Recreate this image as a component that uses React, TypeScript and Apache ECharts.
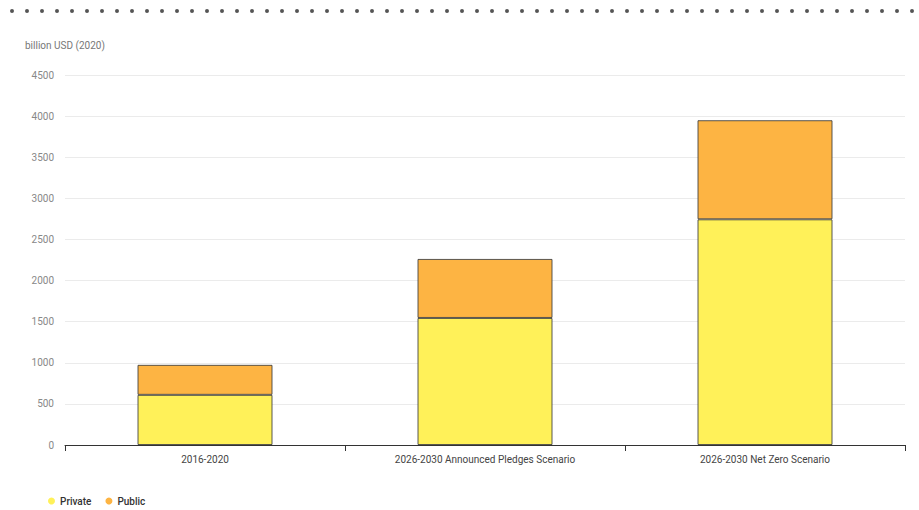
import React, { useEffect, useRef } from "react";
import * as echarts from "echarts";

const categories = ["2016-2020", "2026-2030 Announced Pledges Scenario", "2026-2030 Net Zero Scenario"];
const privateValues = [610, 1545, 2745];
const publicValues = [365, 718, 1205];
const seriesNames = ["Private", "Public"];
const unitLabel = "billion USD (2020)";

export default function App() {
  const ref = useRef<HTMLDivElement>(null);
  useEffect(() => {
    if (!ref.current) return;
    const chart = echarts.init(ref.current, null, { renderer: "svg" });
    const border = { borderColor: "rgba(60,60,60,0.85)", borderWidth: 1 };
    chart.setOption({
      animation: false,
      textStyle: { fontFamily: "Roboto, 'Noto Sans', sans-serif" },
      graphic: [
        {
          type: "line",
          shape: { x1: 12, y1: 11, x2: 919, y2: 11 },
          style: { stroke: "#555", lineWidth: 4, lineDash: [0, 15], lineCap: "round" },
        },
        {
          type: "text",
          left: 25,
          top: 40,
          style: { text: unitLabel, fill: "#777", fontSize: 10, fontFamily: "Roboto, sans-serif" },
        },
      ],
      grid: { left: 65, right: 14, top: 75, bottom: 65, containLabel: false },
      legend: {
        data: seriesNames,
        left: 43,
        top: 491,
        icon: "circle",
        itemWidth: 7,
        itemHeight: 7,
        itemGap: 14,
        itemStyle: { borderWidth: 0 },
        textStyle: { fontSize: 10, color: "#333", fontWeight: 500 },
      },
      xAxis: {
        type: "category",
        data: categories,
        axisLine: { lineStyle: { color: "#333", width: 1 } },
        axisTick: { show: true, length: 6, lineStyle: { color: "#333" } },
        axisLabel: { color: "#444", fontSize: 10, margin: 9 },
      },
      yAxis: {
        type: "value",
        min: 0,
        max: 4500,
        interval: 500,
        axisLine: { show: false },
        axisTick: { show: false },
        axisLabel: { color: "#888", fontSize: 10, margin: 11, formatter: (v: number) => String(v) },
        splitLine: { lineStyle: { color: "#ebebeb" } },
      },
      series: [
        {
          name: seriesNames[0],
          type: "bar",
          stack: "total",
          data: privateValues,
          barWidth: 135,
          itemStyle: { color: "#fff159", ...border },
        },
        {
          name: seriesNames[1],
          type: "bar",
          stack: "total",
          data: publicValues,
          barWidth: 135,
          itemStyle: { color: "#fdb443", ...border },
        },
      ],
    });
    return () => chart.dispose();
  }, []);
  return <div ref={ref} style={{ width: 919, height: 510, position: "absolute", left: 0, top: 0 }} />;
}
